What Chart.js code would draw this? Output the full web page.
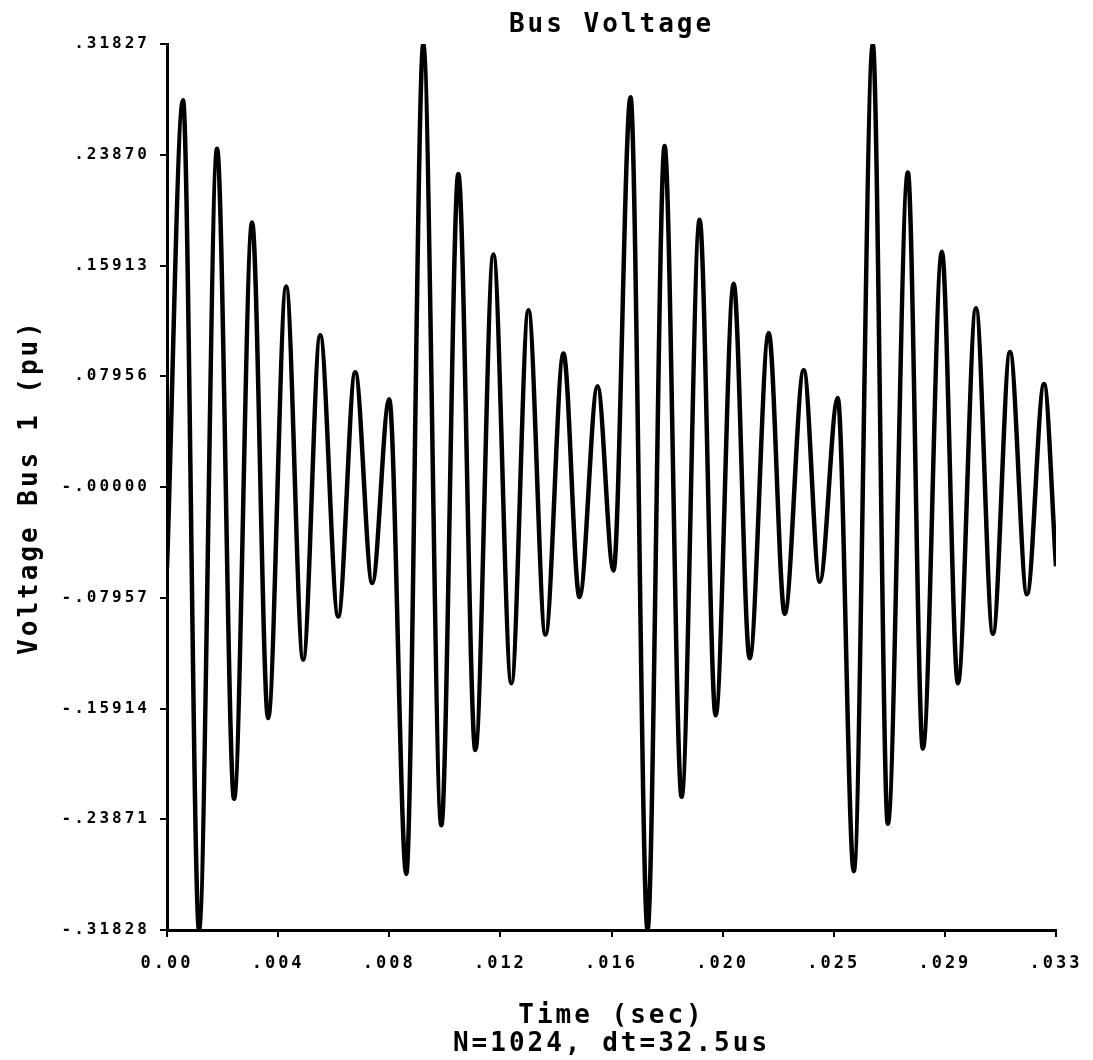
<!DOCTYPE html>
<html>
<head>
<meta charset="utf-8">
<title>Bus Voltage</title>
<script src="https://cdn.jsdelivr.net/npm/chart.js@4.4.0/dist/chart.umd.min.js"></script>
<style>
  html, body { margin: 0; padding: 0; background: #fff; }
</style>
</head>
<body>
<canvas id="busChart" width="1093" height="1060"></canvas>
<script>
// peaks and troughs, in order (time in sec, voltage in pu)
let timeSec = [
  0.0,
  0.000600, 0.001199, 0.001874, 0.002511, 0.003186, 0.003785, 0.004460, 0.005097,
  0.005734, 0.006409, 0.007046, 0.007683, 0.008320, 0.008957, 0.009594, 0.010269,
  0.010906, 0.011543, 0.012218, 0.012892, 0.013530, 0.014167, 0.014842, 0.015441,
  0.016116, 0.016715, 0.017352, 0.017989, 0.018627, 0.019264, 0.019939, 0.020538,
  0.021213, 0.021812, 0.022525, 0.023124, 0.023836, 0.024436, 0.025110, 0.025710,
  0.026422, 0.026984, 0.027734, 0.028296, 0.029008, 0.029608, 0.030283, 0.030919,
  0.031557, 0.032194, 0.032831,
  0.03328
];
let voltagePu = [
  -0.058,
  0.278, -0.318, 0.243, -0.224, 0.190, -0.166, 0.144, -0.124,
  0.109, -0.093, 0.0825, -0.069, 0.063, -0.278, 0.318, -0.243,
  0.225, -0.189, 0.167, -0.141, 0.127, -0.106, 0.096, -0.079,
  0.0725, -0.060, 0.280, -0.318, 0.245, -0.2225, 0.192, -0.164,
  0.146, -0.123, 0.1105, -0.091, 0.084, -0.068, 0.064, -0.276,
  0.318, -0.242, 0.226, -0.188, 0.169, -0.141, 0.1285, -0.1055,
  0.097, -0.077, 0.074,
  -0.057
];

// axis ticks as printed on the plot
let yTickValues = [0.31827, 0.23870, 0.15913, 0.07956, 0, -0.07957, -0.15914, -0.23871, -0.31828];
let yTickLabels = ['.31827', '.23870', '.15913', '.07956', '-.00000', '-.07957', '-.15914', '-.23871', '-.31828'];
let xTickValues = [0, 0.00416, 0.00832, 0.01248, 0.01664, 0.0208, 0.02496, 0.02912, 0.03328];
let xTickLabels = ['0.00', '.004', '.008', '.012', '.016', '.020', '.025', '.029', '.033'];

const mono = 'DejaVu Sans Mono';

// wide letter spacing like the old pen plotter text
const plotterSpacing = {
  id: 'plotterSpacing',
  beforeUpdate(chart) { chart.ctx.letterSpacing = '3px'; },
  beforeDraw(chart) { chart.ctx.letterSpacing = '3px'; }
};

let points = timeSec.map((t, i) => ({ x: t, y: voltagePu[i] }));

let busChart = new Chart(document.getElementById('busChart'), {
  type: 'line',
  data: {
    datasets: [{
      label: 'Voltage Bus 1',
      data: points,
      borderColor: '#000',
      borderWidth: 4.5,
      pointRadius: 0,
      fill: false,
      cubicInterpolationMode: 'monotone'
    }]
  },
  options: {
    responsive: false,
    animation: false,
    layout: { padding: { left: 0, right: 0, top: 0, bottom: 0 } },
    plugins: {
      legend: { display: false },
      tooltip: { enabled: false },
      title: {
        display: true,
        text: 'Bus Voltage',
        color: '#000',
        fullSize: false,
        font: { family: mono, size: 26, weight: 'bold', lineHeight: 1.08 },
        padding: { top: 11, bottom: 5 }
      }
    },
    scales: {
      x: {
        type: 'linear',
        min: 0,
        max: 0.03328,
        afterBuildTicks: s => { s.ticks = xTickValues.map(v => ({ value: v })); },
        // fixed box so the plot ends where the original one does
        afterFit: s => { s.height = 130; s.paddingRight = 37; },
        border: { display: true, color: '#000', width: 3 },
        grid: { display: true, drawOnChartArea: false, drawTicks: true, tickLength: 7, color: '#000', lineWidth: 2 },
        ticks: {
          autoSkip: false,
          maxRotation: 0,
          padding: 16,
          color: '#000',
          font: { family: mono, size: 17, weight: 'bold' },
          callback: (v, i) => xTickLabels[i]
        },
        title: {
          display: true,
          text: ['Time (sec)', 'N=1024, dt=32.5us'],
          color: '#000',
          font: { family: mono, size: 26, weight: 'bold', lineHeight: 1.08 },
          padding: { top: 0, bottom: 2 }
        }
      },
      y: {
        type: 'linear',
        min: -0.31828,
        max: 0.31827,
        afterBuildTicks: s => { s.ticks = yTickValues.map(v => ({ value: v })); },
        afterFit: s => { s.width = 167; },
        border: { display: true, color: '#000', width: 3 },
        grid: { display: true, drawOnChartArea: false, drawTicks: true, tickLength: 7, color: '#000', lineWidth: 2 },
        ticks: {
          autoSkip: false,
          padding: 10,
          color: '#000',
          font: { family: mono, size: 16, weight: 'bold' },
          callback: (v, i) => yTickLabels[i]
        },
        title: {
          display: true,
          text: 'Voltage Bus 1 (pu)',
          color: '#000',
          font: { family: mono, size: 26, weight: 'bold', lineHeight: 1.08 },
          padding: { top: 16, bottom: 0 }
        }
      }
    }
  },
  plugins: [plotterSpacing]
});
</script>
</body>
</html>
